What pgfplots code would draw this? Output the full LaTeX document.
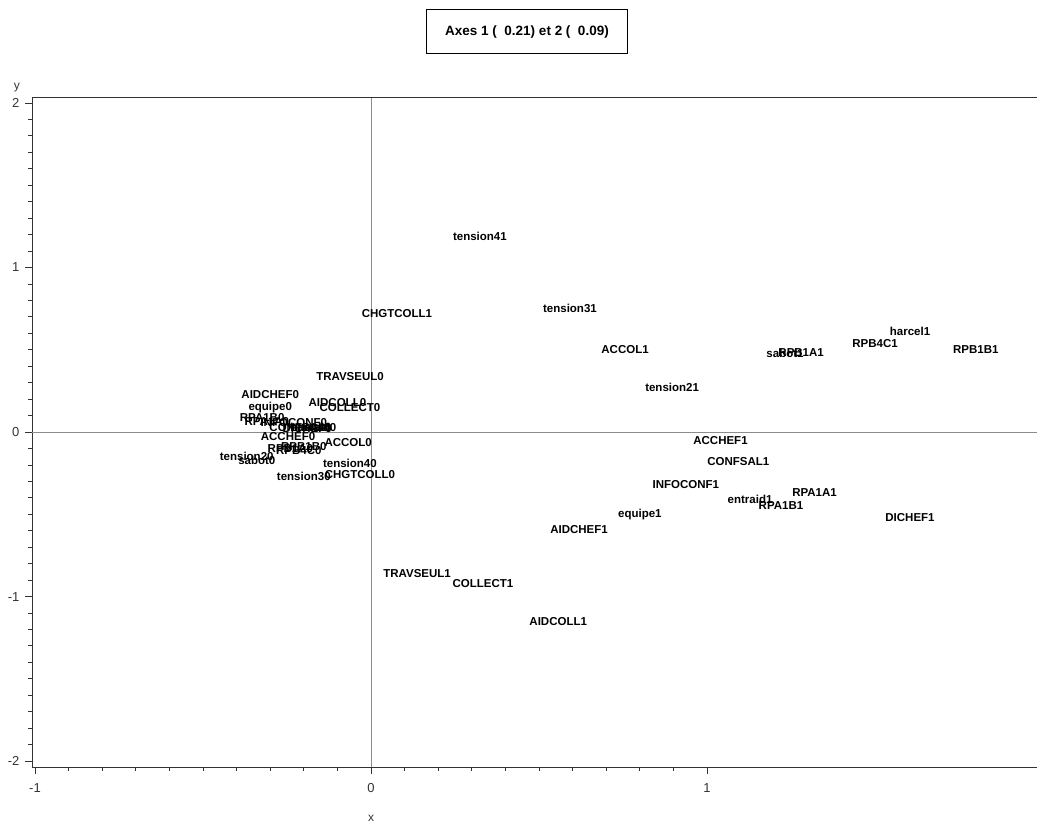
\documentclass[border=0pt]{standalone}
\usepackage{pgfplots}
\pgfplotsset{compat=1.18}
\usepackage{pgfplotstable}
\usepackage{fontspec}
\setmainfont{Liberation Sans}
\pgfplotstableread{
label x y
tension41 0.324 1.19
CHGTCOLL1 0.077 0.72
tension31 0.592 0.75
ACCOL1 0.756 0.50
harcel1 1.604 0.61
RPB4C1 1.50 0.54
RPB1B1 1.80 0.50
sabot1 1.232 0.48
RPB1A1 1.280 0.48
tension21 0.896 0.27
TRAVSEUL0 -0.0625 0.34
AIDCHEF0 -0.30 0.225
AIDCOLL0 -0.10 0.176
COLLECT0 -0.0625 0.146
equipe0 -0.30 0.146
RPA1B0 -0.324 0.09
RPA1A0 -0.31 0.065
INFOCONF0 -0.23 0.055
CONFSAL0 -0.21 0.03
entraid0 -0.17 0.025
DICHEF0 -0.19 0.02
harcel0 -0.18 0.03
ACCHEF0 -0.247 -0.03
ACCOL0 -0.068 -0.067
RPB1A0 -0.24 -0.10
RPB1B0 -0.20 -0.09
RPB4C0 -0.215 -0.11
tension20 -0.37 -0.15
sabot0 -0.34 -0.17
tension40 -0.063 -0.19
CHGTCOLL0 -0.033 -0.26
tension30 -0.20 -0.27
ACCHEF1 1.04 -0.05
CONFSAL1 1.093 -0.18
INFOCONF1 0.937 -0.32
entraid1 1.128 -0.41
RPA1B1 1.22 -0.45
RPA1A1 1.32 -0.37
DICHEF1 1.604 -0.52
equipe1 0.80 -0.50
AIDCHEF1 0.619 -0.59
AIDCOLL1 0.557 -1.15
TRAVSEUL1 0.137 -0.86
COLLECT1 0.333 -0.92
}\pts
\begin{document}
\begin{tikzpicture}
\useasboundingbox (-32pt,-58pt) rectangle (1005pt,767pt);
\begin{axis}[
  scale only axis,
  width=1005pt, height=670pt,
  xmin=-1.009, xmax=1.982,
  ymin=-2.036, ymax=2.036,
  axis x line*=bottom, axis y line*=left,
  axis line style={black!80, line width=0.9pt, -},
  xtick={-1,0,1}, ytick={-2,-1,0,1,2},
  minor x tick num=9, minor y tick num=9,
  tick align=outside,
  major tick length=7pt, minor tick length=4pt,
  tick style={black!80, line width=0.8pt},
  /pgf/number format/assume math mode=true,
  tick label style={font=\fontsize{13}{13}\selectfont, text=black!80},
  xticklabel style={yshift=-6pt},
  yticklabel style={xshift=-2pt},
  clip=false,
]
\draw[black!45, line width=0.8pt] (axis cs:0,-2.036) -- (axis cs:0,2.036);
\draw[black!45, line width=0.8pt] (axis cs:-1.009,0) -- (axis cs:1.982,0);
\draw[black!80, line width=0.9pt] (rel axis cs:0,1) -- (rel axis cs:1,1);
\addplot[only marks, mark=none,
  point meta=explicit symbolic,
  nodes near coords,
  nodes near coords align={center},
  every node near coord/.append style={anchor=center, inner sep=0pt,
    font=\bfseries\fontsize{11.5}{12}\selectfont, text=black}]
  table[x=x, y=y, meta=label] {\pts};
\end{axis}
\node[draw=black, line width=1pt, minimum width=201pt, minimum height=44pt,
  font=\bfseries\fontsize{13.5}{14}\selectfont] at (495pt,735pt) {Axes 1 (\ \ 0.21) et 2 (\ \ 0.09)};
\node[font=\fontsize{12}{12}\selectfont, text=black!80] at (-15pt,679pt) {y};
\node[font=\fontsize{12}{12}\selectfont, text=black!80] at (339pt,-51pt) {x};
\end{tikzpicture}
\end{document}
